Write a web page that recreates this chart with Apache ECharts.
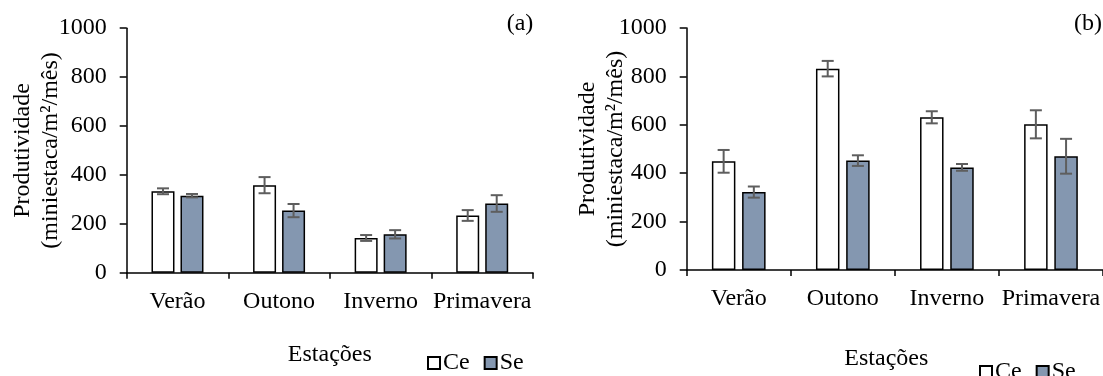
<!DOCTYPE html>
<html>
<head>
<meta charset="utf-8">
<script src="https://cdn.jsdelivr.net/npm/echarts@6/dist/echarts.min.js"></script>
<style>
html,body{margin:0;padding:0;background:#fff;}
#chart{width:1103px;height:376px;}
</style>
</head>
<body>
<div id="chart"></div>
<script>
// ---- data ----
const categories = ['Verão', 'Outono', 'Inverno', 'Primavera'];
const seriesNames = ['Ce', 'Se'];
const ceA = [333, 358, 142, 234];
const ceAErr = [12, 33, 12, 22];
const seA = [315, 254, 157, 283];
const seAErr = [7, 27, 17, 34];
const ceB = [449, 832, 631, 602];
const ceBErr = [47, 32, 25, 58];
const seB = [322, 452, 424, 470];
const seBErr = [23, 22, 14, 72];
const yMin = 0, yMax = 1000, yInterval = 200;
const panelLabels = ['(a)', '(b)'];
const xName = 'Estações';
const yName = 'Produtividade\n(miniestaca/m²/mês)';

// ---- style ----
const FONT = 'Liberation Serif';
const FS = 24;
const seColor = '#8497B0';
const errColor = '#5e5e5e';
const barWA = 23, gapA = 6;
const barWB = 23.5, gapB = 6.7;
const capW = 12;

const chart = echarts.init(document.getElementById('chart'), null, {renderer: 'canvas'});

function errRender(sign, bw, gp) {
  return function (params, api) {
    const x = api.value(0), v = api.value(1), e = api.value(2);
    const t = api.coord([x, v + e]);
    const b = api.coord([x, v - e]);
    const cx = t[0] + sign * (bw + gp) / 2;
    const style = {stroke: errColor, lineWidth: 2};
    return {
      type: 'group',
      children: [
        {type: 'line', shape: {x1: cx, y1: t[1], x2: cx, y2: b[1]}, style: style},
        {type: 'line', shape: {x1: cx - capW / 2, y1: t[1], x2: cx + capW / 2, y2: t[1]}, style: style},
        {type: 'line', shape: {x1: cx - capW / 2, y1: b[1], x2: cx + capW / 2, y2: b[1]}, style: style}
      ]
    };
  };
}

function errData(vals, errs) {
  return vals.map((v, i) => [i, v, errs[i]]);
}

const textStyle = {fontFamily: FONT, fontSize: FS, color: '#000'};

function xAxisDef(gridIndex, labelMargin, nameGap, namePad) {
  return {
    type: 'category', gridIndex: gridIndex, data: categories,
    axisLine: {show: true, lineStyle: {color: '#000', width: 1.5}},
    axisTick: {show: true, alignWithLabel: false, length: 6, lineStyle: {color: '#000', width: 1.5}},
    axisLabel: Object.assign({margin: labelMargin, interval: 0}, textStyle),
    splitLine: {show: false},
    name: xName, nameLocation: 'middle', nameGap: nameGap, nameMoveOverlap: false,
    nameTextStyle: Object.assign({padding: namePad}, textStyle)
  };
}
function yAxisDef(gridIndex, nameGap) {
  return {
    type: 'value', gridIndex: gridIndex, min: yMin, max: yMax, interval: yInterval,
    axisLine: {show: true, lineStyle: {color: '#000', width: 1.5}},
    axisTick: {show: true, inside: false, length: 7, lineStyle: {color: '#000', width: 1.5}},
    axisLabel: Object.assign({margin: 20, formatter: function (v) { return String(v); }}, textStyle),
    splitLine: {show: false},
    name: yName, nameLocation: 'middle', nameGap: nameGap, nameRotate: 90, nameMoveOverlap: false,
    nameTextStyle: Object.assign({lineHeight: 28}, textStyle)
  };
}

const ceStyle = {color: '#fff', borderColor: '#000', borderWidth: 1.5};
const seStyle = {color: seColor, borderColor: '#000', borderWidth: 1.5};

const option = {
  animation: false,
  backgroundColor: '#fff',
  grid: [
    {left: 126.7, top: 28.2, width: 406.3, height: 244.5},
    {left: 686.7, top: 28, width: 420, height: 242}
  ],
  xAxis: [xAxisDef(0, 17, 70, [0, 0, 0, 0]), xAxisDef(1, 17, 77, [0, 17, 0, 0])],
  yAxis: [yAxisDef(0, 62), yAxisDef(1, 57)],
  legend: [
    {data: seriesNames, left: 422, top: 346, icon: 'rect', itemWidth: 12, itemHeight: 12, itemGap: 14,
     textStyle: Object.assign({padding: [0, 0, 0, -2]}, textStyle)},
    {data: seriesNames, left: 974, top: 355, icon: 'rect', itemWidth: 12, itemHeight: 12, itemGap: 14,
     textStyle: Object.assign({padding: [0, 0, 0, -2]}, textStyle)}
  ],
  graphic: [
    {type: 'text', x: 520, y: 24, style: {text: panelLabels[0], font: FS + 'px "' + FONT + '"', fill: '#000', textAlign: 'center', textVerticalAlign: 'middle'}},
    {type: 'text', x: 1088, y: 24, style: {text: panelLabels[1], font: FS + 'px "' + FONT + '"', fill: '#000', textAlign: 'center', textVerticalAlign: 'middle'}}
  ],
  series: [
    {name: 'Ce', type: 'bar', xAxisIndex: 0, yAxisIndex: 0, data: ceA, barWidth: barWA, barGap: (gapA / barWA * 100) + '%', itemStyle: ceStyle},
    {name: 'Se', type: 'bar', xAxisIndex: 0, yAxisIndex: 0, data: seA, barWidth: barWA, barGap: (gapA / barWA * 100) + '%', itemStyle: seStyle},
    {name: 'Ce', type: 'bar', xAxisIndex: 1, yAxisIndex: 1, data: ceB, barWidth: barWB, barGap: (gapB / barWB * 100) + '%', itemStyle: ceStyle},
    {name: 'Se', type: 'bar', xAxisIndex: 1, yAxisIndex: 1, data: seB, barWidth: barWB, barGap: (gapB / barWB * 100) + '%', itemStyle: seStyle},
    {name: 'errCeA', type: 'custom', xAxisIndex: 0, yAxisIndex: 0, z: 5, renderItem: errRender(-1, barWA, gapA), data: errData(ceA, ceAErr)},
    {name: 'errSeA', type: 'custom', xAxisIndex: 0, yAxisIndex: 0, z: 5, renderItem: errRender(1, barWA, gapA), data: errData(seA, seAErr)},
    {name: 'errCeB', type: 'custom', xAxisIndex: 1, yAxisIndex: 1, z: 5, renderItem: errRender(-1, barWB, gapB), data: errData(ceB, ceBErr)},
    {name: 'errSeB', type: 'custom', xAxisIndex: 1, yAxisIndex: 1, z: 5, renderItem: errRender(1, barWB, gapB), data: errData(seB, seBErr)}
  ]
};
chart.setOption(option);
</script>
</body>
</html>
